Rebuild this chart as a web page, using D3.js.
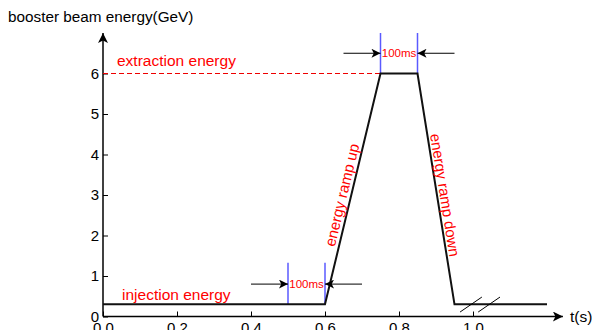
<!DOCTYPE html>
<html>
<head>
<meta charset="utf-8">
<script src="https://cdn.jsdelivr.net/npm/d3@7"></script>
<style>
  body { margin: 0; background: #fff; }
  svg { font-family: "Liberation Sans", Arial, Helvetica, sans-serif; }
</style>
</head>
<body>
<svg id="chart" width="592" height="330"></svg>
<script>
// cycle profile (time in s, energy in GeV)
var profileT = [0, 0.6, 0.75, 0.85, 0.95, 1.2];
var profileE = [0.3, 0.3, 6, 6, 0.3, 0.3];

var xMajorTicks = [0, 0.2, 0.4, 0.6, 0.8, 1.0];
var xMinorTicks = d3.range(0, 24).map(function(i) { return i * 0.05; });
var yMajorTicks = [0, 1, 2, 3, 4, 5, 6];
var yMinorTicks = d3.range(0, 35).map(function(i) { return i * 0.2; });

var injectionE = 0.3;
var extractionE = 6;

// 100ms markers
var lowMarkT = [0.5, 0.6];
var highMarkT = [0.75, 0.85];

var svg = d3.select('#chart');

var x = d3.scaleLinear().domain([0, 1]).range([103, 473]);
var y = d3.scaleLinear().domain([0, 6]).range([316.5, 73.5]);

var g = svg.append('g');

// arrow head markers
var defs = svg.append('defs');
defs.append('marker')
    .attr('id', 'head')
    .attr('viewBox', '0 0 10 10')
    .attr('refX', 10).attr('refY', 5)
    .attr('markerUnits', 'userSpaceOnUse')
    .attr('markerWidth', 14).attr('markerHeight', 9)
    .attr('orient', 'auto')
  .append('path')
    .attr('d', 'M0,0 L10,5 L0,10 L2.5,5 Z')
    .attr('fill', '#000');
defs.append('marker')
    .attr('id', 'axhead')
    .attr('viewBox', '0 0 10 10')
    .attr('refX', 10).attr('refY', 5)
    .attr('markerUnits', 'userSpaceOnUse')
    .attr('markerWidth', 22).attr('markerHeight', 10)
    .attr('orient', 'auto')
  .append('path')
    .attr('d', 'M0,0 L10,5 L0,10 L2.5,5 Z')
    .attr('fill', '#000');

// axes
var xAxisG = g.append('g').attr('transform', 'translate(0,' + y(0) + ')');
xAxisG.call(d3.axisBottom(x).tickValues(xMinorTicks).tickSize(-3).tickFormat(''));
xAxisG.call(d3.axisBottom(x).tickValues(xMajorTicks).tickSize(-5).tickPadding(6)
    .tickFormat(d3.format('.1f')));
xAxisG.selectAll('.domain').remove();
xAxisG.selectAll('text').attr('font-size', 15).attr('font-family', null).attr('fill', '#000');

var yAxisG = g.append('g').attr('transform', 'translate(' + x(0) + ',0)');
yAxisG.call(d3.axisLeft(y).tickValues(yMinorTicks).tickSize(-3).tickFormat(''));
yAxisG.call(d3.axisLeft(y).tickValues(yMajorTicks).tickSize(-5).tickPadding(4)
    .tickFormat(d3.format('d')));
yAxisG.selectAll('.domain').remove();
yAxisG.selectAll('text').attr('font-size', 15).attr('font-family', null).attr('fill', '#000');

g.append('line')
    .attr('x1', x(0)).attr('y1', y(0))
    .attr('x2', x(1.243)).attr('y2', y(0))
    .attr('stroke', '#000').attr('stroke-width', 1.5)
    .attr('marker-end', 'url(#axhead)');
g.append('line')
    .attr('x1', x(0)).attr('y1', y(0))
    .attr('x2', x(0)).attr('y2', y(7.0))
    .attr('stroke', '#000').attr('stroke-width', 1.5)
    .attr('marker-end', 'url(#axhead)');

svg.append('text')
    .attr('x', 8).attr('y', 22)
    .attr('font-size', 15.3)
    .text('booster beam energy(GeV)');
svg.append('text')
    .attr('x', 570).attr('y', 322)
    .attr('font-size', 15.5)
    .text('t(s)');

// extraction level
g.append('line')
    .attr('x1', x(0)).attr('y1', y(extractionE))
    .attr('x2', x(0.75)).attr('y2', y(extractionE))
    .attr('stroke', '#e00').attr('stroke-width', 1)
    .attr('stroke-dasharray', '5,3');

// blue 100ms markers
function markers(ts, e0, e1) {
  g.selectAll(null).data(ts).enter().append('line')
      .attr('x1', function(d) { return x(d); })
      .attr('x2', function(d) { return x(d); })
      .attr('y1', y(e0)).attr('y2', y(e1))
      .attr('stroke', '#5a5aff').attr('stroke-width', 1.5);
}
markers(lowMarkT, injectionE, 1.33);
markers(highMarkT, extractionE, 7.0);

// profile
var line = d3.line()
    .x(function(d, i) { return x(profileT[i]); })
    .y(function(d, i) { return y(profileE[i]); });
g.append('path')
    .datum(profileE)
    .attr('d', line)
    .attr('fill', 'none')
    .attr('stroke', '#111').attr('stroke-width', 2);

// axis break slashes
[0, 0.049].forEach(function(off) {
  g.append('line')
      .attr('x1', x(0.965 + off)).attr('y1', y(0.11))
      .attr('x2', x(1.024 + off)).attr('y2', y(0.48))
      .attr('stroke', '#000').attr('stroke-width', 1);
});

// dimension arrows
function dimArrows(ts, e, label) {
  var gap = 0.1;
  g.append('line')
      .attr('x1', x(ts[0] - gap)).attr('y1', y(e))
      .attr('x2', x(ts[0])).attr('y2', y(e))
      .attr('stroke', '#000').attr('stroke-width', 1)
      .attr('marker-end', 'url(#head)');
  g.append('line')
      .attr('x1', x(ts[1] + gap)).attr('y1', y(e))
      .attr('x2', x(ts[1])).attr('y2', y(e))
      .attr('stroke', '#000').attr('stroke-width', 1)
      .attr('marker-end', 'url(#head)');
  g.append('text')
      .attr('x', x((ts[0] + ts[1]) / 2)).attr('y', y(e) + 4)
      .attr('text-anchor', 'middle')
      .attr('font-size', 11.5)
      .attr('fill', '#f00')
      .text(label);
}
dimArrows(lowMarkT, 0.8, '100ms');
dimArrows(highMarkT, 6.5, '100ms');

// labels
g.append('text')
    .attr('x', 117).attr('y', 66)
    .attr('font-size', 15.5).attr('fill', '#f00')
    .text('extraction energy');
g.append('text')
    .attr('x', 122).attr('y', 300)
    .attr('font-size', 15.5).attr('fill', '#f00')
    .text('injection energy');

function slopeLabel(t0, e0, t1, e1, cx, cy, txt) {
  var ang = Math.atan2(y(e1) - y(e0), x(t1) - x(t0)) * 180 / Math.PI;
  g.append('text')
      .attr('transform', 'translate(' + cx + ',' + cy + ') rotate(' + ang + ')')
      .attr('text-anchor', 'middle')
      .attr('dy', '0.35em')
      .attr('font-size', 15).attr('fill', '#f00')
      .text(txt);
}
slopeLabel(0.6, 0.3, 0.75, 6, 342, 195, 'energy ramp up');
slopeLabel(0.85, 6, 0.95, 0.3, 445, 195, 'energy ramp down');
</script>
</body>
</html>
